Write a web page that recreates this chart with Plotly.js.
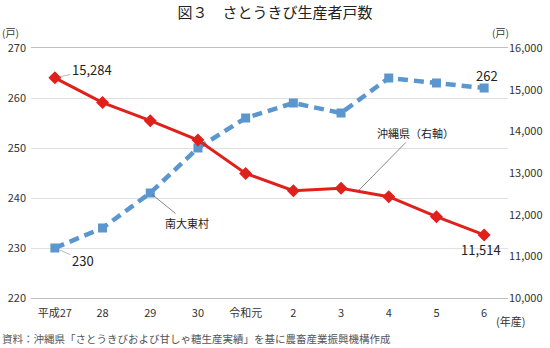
<!DOCTYPE html>
<html>
<head>
<meta charset="utf-8">
<script src="https://cdn.plot.ly/plotly-3.0.1.min.js"></script>
<style>body{margin:0;background:#fff}#chart{width:550px;height:348px}</style>
</head>
<body>
<div id="chart"></div>
<script>
const categories = ["平成27","28","29","30","令和元","2","3","4","5","6"];
const minamidaito = [230, 234, 241, 250, 256, 259, 257, 264, 263, 262];
const okinawa = [15284, 14690, 14256, 13790, 12990, 12576, 12632, 12432, 11952, 11514];
const leftTicks = [220, 230, 240, 250, 260, 270];
const rightTicks = [10000, 11000, 12000, 13000, 14000, 15000, 16000];

const FONT = "Noto Sans CJK JP, Noto Sans, sans-serif";
const RED = "#e0201b";
const BLUE = "#5b96cf";

const traces = [
  {
    x: categories, y: minamidaito, type: "scatter", mode: "lines+markers",
    name: "南大東村", yaxis: "y",
    line: {color: BLUE, width: 4.5, dash: "10px,6px"},
    marker: {symbol: "square", size: 9, color: BLUE}
  },
  {
    x: categories, y: okinawa, type: "scatter", mode: "lines+markers",
    name: "沖縄県（右軸）", yaxis: "y2",
    line: {color: RED, width: 3},
    marker: {symbol: "diamond", size: 10, color: RED}
  }
];

const layout = {
  width: 550, height: 348,
  margin: {l: 31, r: 42, t: 48, b: 50},
  paper_bgcolor: "#fff", plot_bgcolor: "#fff",
  showlegend: false,
  font: {family: FONT, size: 11, color: "#333"},
  title: {text: "図３　さとうきび生産者戸数", font: {family: FONT, size: 15, color: "#222"}, x: 0.5, xanchor: "center", y: 0.962, yanchor: "middle"},
  xaxis: {
    type: "category", range: [-0.5, 9.5],
    showline: true, linecolor: "#bfbfbf", linewidth: 1, mirror: true,
    showgrid: false, ticks: "", ticklabelstandoff: 5,
    tickfont: {family: FONT, size: 11, color: "#333"}
  },
  yaxis: {
    range: [220, 270], tickvals: leftTicks,
    showline: false, gridcolor: "#e0e0e0", gridwidth: 1, zeroline: false,
    ticks: "", ticklabelstandoff: 4, tickfont: {family: FONT, size: 11, color: "#333"}
  },
  yaxis2: {
    range: [10000, 16000], tickvals: rightTicks, tickformat: ",d",
    overlaying: "y", side: "right", showgrid: false, zeroline: false,
    showline: false, ticks: "", tickfont: {family: FONT, size: 11, color: "#333"}
  },
  annotations: [
    {xref: "x", yref: "y2", x: 0, y: okinawa[0], text: "15,284", showarrow: true, arrowhead: 0, arrowwidth: 0.7, arrowcolor: "#999", ax: 37, ay: -8, standoff: 5, font: {family: FONT, size: 13, color: "#222"}},
    {xref: "x", yref: "y", x: 0, y: minamidaito[0], text: "230", showarrow: true, arrowhead: 0, arrowwidth: 0.7, arrowcolor: "#999", ax: 28, ay: 12, standoff: 5, font: {family: FONT, size: 13, color: "#222"}},
    {xref: "x", yref: "y", x: 9, y: minamidaito[9], text: "262", showarrow: false, xshift: 3, yshift: 13, font: {family: FONT, size: 13, color: "#222"}},
    {xref: "x", yref: "y2", x: 9, y: okinawa[9], text: "11,514", showarrow: false, xshift: -3, yshift: -15, font: {family: FONT, size: 13, color: "#222"}},
    {xref: "x", yref: "y", x: 2, y: minamidaito[2], text: "南大東村", showarrow: true, arrowhead: 0, arrowwidth: 0.7, arrowcolor: "#555", ax: 37, ay: 30, standoff: 3, font: {family: FONT, size: 11, color: "#222"}},
    {xref: "x", yref: "y2", x: 6.36, y: 12570, text: "沖縄県（右軸）", showarrow: true, arrowhead: 0, arrowwidth: 0.7, arrowcolor: "#555", ax: 57, ay: -58, standoff: 0, font: {family: FONT, size: 11, color: "#222"}},
    {xref: "paper", yref: "paper", x: -0.044, y: 1.06, xanchor: "center", yanchor: "middle", text: "(戸)", showarrow: false, font: {family: FONT, size: 10, color: "#333"}},
    {xref: "paper", yref: "paper", x: 0.985, y: 1.06, xanchor: "center", yanchor: "middle", text: "(戸)", showarrow: false, font: {family: FONT, size: 10, color: "#333"}},
    {xref: "paper", yref: "paper", x: 1.006, y: -0.09, xanchor: "center", yanchor: "middle", text: "(年産)", showarrow: false, font: {family: FONT, size: 11, color: "#333"}},
    {xref: "paper", yref: "paper", x: -0.065, y: -0.16, xanchor: "left", yanchor: "middle", text: "資料：沖縄県「さとうきびおよび甘しゃ糖生産実績」を基に農畜産業振興機構作成", showarrow: false, font: {family: FONT, size: 10.5, color: "#555"}}
  ]
};

Plotly.newPlot("chart", traces, layout, {staticPlot: true, displayModeBar: false});
</script>
</body>
</html>
